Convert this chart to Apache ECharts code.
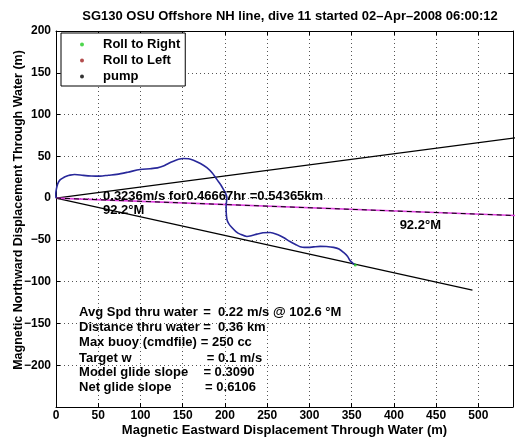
<!DOCTYPE html>
<html>
<head>
<meta charset="utf-8">
<script src="https://cdn.jsdelivr.net/npm/echarts@6/dist/echarts.min.js"></script>
<style>html,body{margin:0;padding:0;background:#fff}#c{width:522px;height:442px}</style>
</head>
<body>
<div id="c"></div>
<script>
// ---- data ----
var titleText = 'SG130 OSU Offshore NH line, dive 11 started 02–Apr–2008 06:00:12';
var xName = 'Magnetic Eastward Displacement Through Water (m)';
var yName = 'Magnetic Northward Displacement Through Water (m)';
var xTicks = [0, 50, 100, 150, 200, 250, 300, 350, 400, 450, 500];
var yTicks = [-200, -150, -100, -50, 0, 50, 100, 150, 200];
var legendNames = ['Roll to Right', 'Roll to Left', 'pump'];

var trackX = [0, -0.3, 0.5, 2, 4.5, 8.6, 13, 16.6, 22, 32.3, 42, 52.1, 62, 71.9, 85, 99.5, 111.4, 120, 127.1, 133, 139, 145, 150.8, 157, 162.7, 171, 178.6, 185, 190.4, 195, 198.2, 201, 202.3, 201.4, 201.5, 202.3, 204.5, 208.2, 213, 218, 226, 232, 237.8, 245, 253.6, 262, 269.3, 277, 285.2, 289.1, 294, 298.9, 305, 312.8, 320, 328.6, 335, 340.4, 345, 348.3, 351.5, 354.3];
var trackY = [0, 5, 11, 17, 21.5, 24.4, 26.5, 27.5, 28.2, 27.2, 26.5, 26.3, 27.4, 28.4, 31, 34.3, 35.2, 36.2, 38.3, 41.5, 44.2, 46.4, 47.4, 47.2, 45.4, 41.5, 36.4, 30, 22.4, 16, 10.5, 5, 0.6, -9.4, -17, -25.3, -30.5, -35.2, -40, -43.1, -45.9, -44.8, -43.1, -41.5, -41.1, -43.5, -47.1, -52, -56.3, -58.2, -59, -59, -58.4, -57.8, -58, -59, -61, -65, -69.5, -75, -78, -80.1];

var upperLineX = [0, 545];
var upperLineY = [0, 72.2];
var lowerLineX = [0, 493];
var lowerLineY = [0, -110.2];
var headingLineX = [0, 543.25];
var headingLineY = [0, -20.87];

var annoTexts = ['0.3236m/s for0.46667hr =0.54365km', '92.2°M', '92.2°M'];
var annoX = [55.7, 55.7, 406.8];
var annoY = [2.5, -14.5, -32.5];

var statLabels = ['Avg Spd thru water', 'Distance thru water', 'Max buoy (cmdfile)', 'Target w', 'Model glide slope', 'Net glide slope'];
var statValues = ['=  0.22 m/s @ 102.6 °M', '=  0.36 km', '= 250 cc', '= 0.1 m/s', '= 0.3090', '= 0.6106'];
var statLabelX = 27.3;
var statValueX = [174.2, 174.2, 171.5, 178.6, 174.5, 176.5];
var statY = [-137.3, -155.2, -173.1, -191.5, -208.8, -226.6];

// ---- build ----
function pairs(xs, ys) { return xs.map(function (v, i) { return [v, ys[i]]; }); }
var FONT = '"Liberation Sans", Arial, Helvetica, sans-serif';
var chart = echarts.init(document.getElementById('c'), null, { renderer: 'canvas' });

function textSeries(name, xs, ys, texts) {
  return {
    name: name, type: 'custom', silent: true, z: 20, clip: false,
    data: xs.map(function (x, i) { return [x, ys[i], i]; }),
    encode: { x: 0, y: 1 },
    renderItem: function (params, api) {
      var p = api.coord([api.value(0), api.value(1)]);
      return {
        type: 'text', x: p[0], y: p[1],
        style: { text: texts[api.value(2)], fill: '#000', align: 'left', verticalAlign: 'middle',
          font: 'bold 13px ' + FONT }
      };
    }
  };
}

var statLabelXs = statY.map(function () { return statLabelX; });

var option = {
  animation: false,
  backgroundColor: '#fff',
  textStyle: { fontFamily: FONT },
  title: {
    text: titleText, left: 285, textAlign: 'center', top: 5,
    textStyle: { fontFamily: FONT, fontWeight: 'bold', fontSize: 13, color: '#000' }
  },
  legend: {
    data: legendNames, orient: 'vertical', left: 61, top: 33,
    padding: [4, 5, 2, 19], itemGap: 1, itemWidth: 4, itemHeight: 4, icon: 'circle',
    backgroundColor: '#fff', borderColor: '#000', borderWidth: 1,
    selectedMode: false,
    textStyle: { fontFamily: FONT, fontWeight: 'bold', fontSize: 13, color: '#000', lineHeight: 15, padding: [0, 0, 0, 14] }
  },
  grid: { left: 56, top: 31, width: 457, height: 376, containLabel: false, outerBoundsMode: 'none' },
  xAxis: [{
    type: 'value', min: 0, max: 541, interval: 50, position: 'bottom',
    name: xName, nameLocation: 'middle', nameGap: 17, nameMoveOverlap: false,
    nameTextStyle: { fontFamily: FONT, fontWeight: 'bold', fontSize: 13, color: '#000' },
    axisLine: { onZero: false, lineStyle: { color: '#000', width: 1 } },
    axisTick: { inside: true, length: 4, lineStyle: { color: '#000' } },
    axisLabel: { margin: 3, showMaxLabel: false, fontFamily: FONT, fontWeight: 'bold', fontSize: 12, color: '#000' },
    splitLine: { show: true, lineStyle: { color: '#555', type: [1, 3], width: 1 } }
  }, {
    type: 'value', min: 0, max: 541, interval: 50, position: 'top',
    axisLine: { onZero: false, lineStyle: { color: '#000', width: 1 } },
    axisTick: { inside: true, length: 4, lineStyle: { color: '#000' } },
    axisLabel: { show: false }, splitLine: { show: false }
  }],
  yAxis: [{
    type: 'value', min: -250, max: 200, interval: 50, position: 'left',
    name: yName, nameLocation: 'middle', nameGap: 31, nameMoveOverlap: false,
    nameTextStyle: { fontFamily: FONT, fontWeight: 'bold', fontSize: 12.5, color: '#000', padding: [0, 0, 0, 18] },
    axisLine: { show: true, onZero: false, lineStyle: { color: '#000', width: 1 } },
    axisTick: { show: true, inside: true, length: 4, lineStyle: { color: '#000' } },
    axisLabel: { margin: 5, showMinLabel: false, fontFamily: FONT, fontWeight: 'bold', fontSize: 12, color: '#000',
      formatter: function (v) { return String(v).replace('-', '\u2212'); } },
    splitLine: { show: true, lineStyle: { color: '#555', type: [1, 3], width: 1 } }
  }, {
    type: 'value', min: -250, max: 200, interval: 50, position: 'right',
    axisLine: { show: true, onZero: false, lineStyle: { color: '#000', width: 1 } },
    axisTick: { show: true, inside: true, length: 4, lineStyle: { color: '#000' } },
    axisLabel: { show: false }, splitLine: { show: false }
  }],
  series: [
    { name: 'Roll to Right', type: 'scatter', data: [[354.3, -80.1]], symbolSize: 3, itemStyle: { color: '#22cc22' }, z: 6 },
    { name: 'Roll to Left', type: 'scatter', data: [], symbolSize: 3, itemStyle: { color: '#a02020' } },
    { name: 'pump', type: 'scatter', data: [], symbolSize: 3, itemStyle: { color: '#000' } },
    { name: 'upper', type: 'line', data: pairs(upperLineX, upperLineY), showSymbol: false, silent: true,
      lineStyle: { color: '#000', width: 1.2 }, z: 3 },
    { name: 'lower', type: 'line', data: pairs(lowerLineX, lowerLineY), showSymbol: false, silent: true,
      lineStyle: { color: '#000', width: 1.2 }, z: 3 },
    { name: 'headingM', type: 'line', data: pairs(headingLineX, headingLineY), showSymbol: false, silent: true,
      lineStyle: { color: '#e040e0', width: 1.6 }, z: 3 },
    { name: 'headingK', type: 'line', data: pairs(headingLineX, headingLineY), showSymbol: false, silent: true,
      lineStyle: { color: '#000', width: 1, type: [5, 4] }, z: 4 },
    { name: 'track', type: 'line', data: pairs(trackX, trackY), showSymbol: false, silent: true, smooth: 0.3,
      lineStyle: { color: '#28289a', width: 1.6 }, z: 5 },
    textSeries('anno', annoX, annoY, annoTexts),
    textSeries('statL', statLabelXs, statY, statLabels),
    textSeries('statV', statValueX, statY, statValues)
  ]
};
chart.setOption(option);
</script>
</body>
</html>
